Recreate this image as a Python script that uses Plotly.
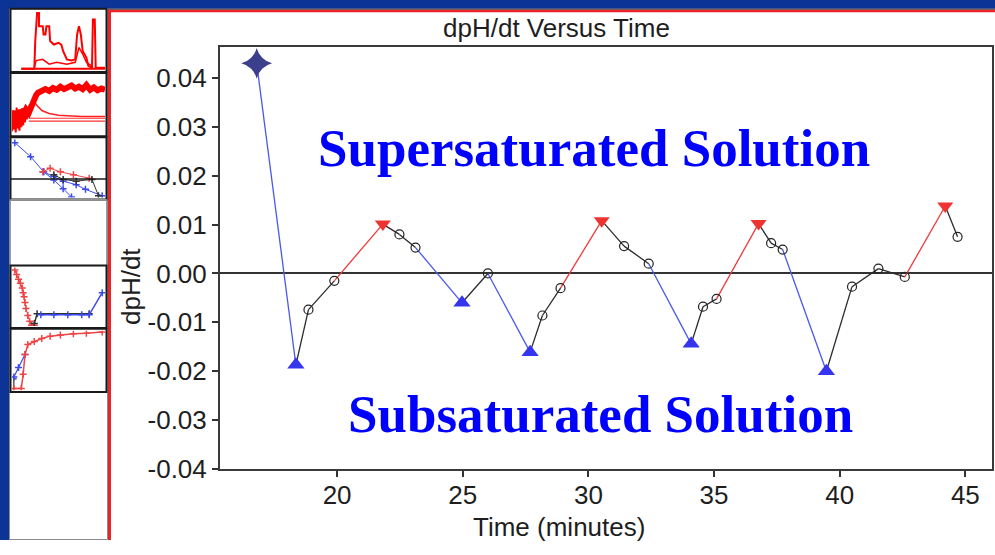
import plotly.graph_objects as go

W, H = 995, 555

# ---------------- main chart data ----------------
time_min = [16.80, 18.36, 18.86, 19.89, 21.82, 22.48, 23.12, 24.97, 26.00, 27.68,
            28.17, 28.89, 30.53, 31.42, 32.40, 34.09, 34.56, 35.10, 36.77, 37.27,
            37.73, 39.47, 40.49, 41.54, 42.59, 44.20, 44.69]
dph_dt = [0.0430, -0.0187, -0.0074, -0.0015, 0.0101, 0.0080, 0.0053, -0.0060, 0.0000, -0.0161,
          -0.0086, -0.0030, 0.0108, 0.0056, 0.0020, -0.0144, -0.0068, -0.0052, 0.0102, 0.0062,
          0.0049, -0.0200, -0.0027, 0.0010, -0.0007, 0.0138, 0.0075]
point_kind = ["start", "min", "pt", "pt", "max", "pt", "pt", "min", "pt", "min",
              "pt", "pt", "max", "pt", "pt", "min", "pt", "pt", "max", "pt",
              "pt", "min", "pt", "pt", "pt", "max", "pt"]

y_tick_vals = [-0.04, -0.03, -0.02, -0.01, 0.0, 0.01, 0.02, 0.03, 0.04]
y_tick_text = ["-0.04", "-0.03", "-0.02", "-0.01", "0.00", "0.01", "0.02", "0.03", "0.04"]
x_tick_vals = [20, 25, 30, 35, 40, 45]
x_tick_text = ["20", "25", "30", "35", "40", "45"]

chart_title = "dpH/dt Versus Time"
x_title = "Time (minutes)"
y_title = "dpH/dt"
upper_label = "Supersaturated Solution"
lower_label = "Subsaturated Solution"

# ---------------- thumbnail data (0-100 units) ----------------
thumb1_main_u = [10, 24, 25, 27, 29, 29, 33, 34, 36, 37, 40, 41, 45, 50, 53, 55, 59, 64, 68, 70, 72, 74, 76, 80, 82, 86, 87, 89, 90, 100]
thumb1_main_v = [2, 2, 49, 96, 96, 74, 74, 60, 60, 74, 74, 49, 43, 46, 43, 32, 18, 16, 18, 60, 74, 60, 32, 21, 7, 4, 85, 85, 4, 4]
thumb1_low_u = [24, 26, 33, 40, 48, 59, 68, 72, 76, 80, 86]
thumb1_low_v = [4, 16, 18, 10, 13, 10, 13, 38, 27, 13, 7]
thumb1_base_u = [10, 100]
thumb1_base_v = [2, 2]

thumb2_band_u = [0, 3, 6, 9, 12, 15, 18, 20, 22, 24, 26, 28, 30, 33, 36, 40, 44, 48, 52, 56, 60, 64, 68, 72, 76, 80, 84, 88, 92, 96, 100]
thumb2_band_v = [30, 38, 28, 40, 33, 42, 36, 45, 52, 60, 66, 70, 72, 74, 76, 73, 78, 75, 80, 76, 78, 82, 77, 80, 76, 83, 75, 79, 74, 77, 75]
thumb2_noise_u = [0, 1, 2, 3, 4, 5, 6, 7, 8, 9, 10, 11, 12, 13, 14, 15, 16, 17, 18, 19, 20]
thumb2_noise_v = [5, 40, 8, 35, 3, 45, 10, 38, 6, 42, 12, 44, 15, 40, 20, 48, 25, 46, 30, 50, 35]
thumb2_decay_u = [22, 26, 32, 40, 50, 62, 75, 100]
thumb2_decay_v = [62, 50, 40, 35, 32, 31, 30, 30]
thumb2_flat_u = [18, 100]
thumb2_flat_v = [22, 22]
thumb2_flat2_v = [27, 27]

thumb3_blue_u = [3, 20, 34, 45, 55, 64]
thumb3_blue_v = [94, 70, 44, 30, 15, 1]
thumb3_blue2_u = [34, 45, 55, 69, 79, 97]
thumb3_blue2_v = [44, 36, 28, 22, 14, 3]
thumb3_red_u = [33, 41, 52, 66, 83]
thumb3_red_v = [44, 50, 44, 39, 33]
thumb3_black_u = [45, 55, 69, 86, 93]
thumb3_black_v = [39, 31, 28, 31, 3]

thumb5_red_u = [3, 5, 7, 9, 11, 12, 13, 14, 15, 17, 19, 21, 24]
thumb5_red_v = [96, 88, 80, 73, 65, 57, 50, 40, 30, 18, 8, 1, 1]
thumb5_black_u = [24, 27, 83]
thumb5_black_v = [4, 21, 21]
thumb5_blue_u = [31, 45, 60, 75, 83, 97]
thumb5_blue_v = [19, 19, 19, 19, 19, 57]

thumb6_red_u = [2, 10, 12, 14, 17, 24, 32, 41, 52, 66, 80, 97]
thumb6_red_v = [3, 3, 27, 60, 77, 82, 87, 91, 93, 95, 96, 98]
thumb6_blue_u = [2, 7, 14]
thumb6_blue_v = [22, 38, 60]
thumb6_black_u = [2, 2, 5]
thumb6_black_v = [3, 19, 19]

SANS = "Liberation Sans, Arial, sans-serif"
SERIF = "Liberation Serif, Times New Roman, serif"
NAVY = "#0b3496"
TXT = "#1e1e1e"


def px(x):
    return x / W


def py(y):
    return 1 - y / H


fig = go.Figure()

# segments coloured by the kind of point they lead into
seg_color = {"min": "#4a58ee", "max": "#ee3a3a"}
groups = {}
for i in range(len(time_min) - 1):
    c = seg_color.get(point_kind[i + 1], "#2b2b2b")
    gx, gy = groups.setdefault(c, ([], []))
    gx += [time_min[i], time_min[i + 1], None]
    gy += [dph_dt[i], dph_dt[i + 1], None]
for c, (gx, gy) in groups.items():
    fig.add_trace(go.Scatter(x=gx, y=gy, mode="lines", line=dict(color=c, width=1.3),
                             hoverinfo="skip", showlegend=False))

marker_styles = {
    "start": dict(symbol="star-diamond", size=22, color="#3b3f8c", line=dict(width=0)),
    "min": dict(symbol="triangle-up", size=15, color="#3535ee", line=dict(width=0)),
    "max": dict(symbol="triangle-down", size=14, color="#ee3333", line=dict(width=0)),
    "pt": dict(symbol="circle-open", size=9, color="#222222", line=dict(width=1.2)),
}
for kind in ["pt", "start", "min", "max"]:
    xs = [t for t, k in zip(time_min, point_kind) if k == kind]
    ys = [v for v, k in zip(dph_dt, point_kind) if k == kind]
    fig.add_trace(go.Scatter(x=xs, y=ys, mode="markers", marker=marker_styles[kind],
                             showlegend=False, hoverinfo="x+y"))

# ---------------- thumbnails ----------------
thumb_boxes = [(9, 74), (75, 140), (141, 205), (205, 273), (273, 337), (338, 403)]
thumb_traces = {
    2: [(thumb1_base_u, thumb1_base_v, "#ff0000", 2, "lines", None),
        (thumb1_low_u, thumb1_low_v, "#ff0000", 1.5, "lines", None),
        (thumb1_main_u, thumb1_main_v, "#ff0000", 2, "lines", None)],
    3: [(thumb2_noise_u, thumb2_noise_v, "#ff0000", 2, "lines", None),
        (thumb2_flat_u, thumb2_flat_v, "#ff3030", 1.2, "lines", None),
        (thumb2_flat_u, thumb2_flat2_v, "#ff3030", 1.2, "lines", None),
        (thumb2_decay_u, thumb2_decay_v, "#ff2020", 1.5, "lines", None),
        (thumb2_band_u, thumb2_band_v, "#ff0000", 6, "lines", None)],
    4: [(thumb3_blue_u, thumb3_blue_v, "#3a4aee", 1, "lines+markers", "#3a4aee"),
        (thumb3_blue2_u, thumb3_blue2_v, "#3a4aee", 1, "lines+markers", "#3a4aee"),
        (thumb3_red_u, thumb3_red_v, "#ee4444", 1, "lines+markers", "#ee4444"),
        (thumb3_black_u, thumb3_black_v, "#333333", 1, "lines+markers", "#333333")],
    6: [(thumb5_red_u, thumb5_red_v, "#ee4444", 1, "lines+markers", "#ee4444"),
        (thumb5_black_u, thumb5_black_v, "#333333", 1.5, "lines+markers", "#333333"),
        (thumb5_blue_u, thumb5_blue_v, "#3a4aee", 1.5, "lines+markers", "#3a4aee")],
    7: [(thumb6_black_u, thumb6_black_v, "#333333", 1.2, "lines", None),
        (thumb6_blue_u, thumb6_blue_v, "#3a4aee", 1.2, "lines+markers", "#3a4aee"),
        (thumb6_red_u, thumb6_red_v, "#ee4444", 1.5, "lines+markers", "#ee4444")],
}
box_axis = {2: 0, 3: 1, 4: 2, 6: 4, 7: 5}
for ax, traces in thumb_traces.items():
    for u, v, col, wdt, mode, mcol in traces:
        fig.add_trace(go.Scatter(
            x=u, y=v, mode=mode, xaxis=f"x{ax}", yaxis=f"y{ax}",
            line=dict(color=col, width=wdt),
            marker=dict(symbol="cross-thin-open", size=5, color=mcol or col, line=dict(width=1.5, color=mcol or col)),
            hoverinfo="skip", showlegend=False))

layout_axes = {}
for ax, bi in box_axis.items():
    top, bot = thumb_boxes[bi]
    layout_axes[f"xaxis{ax}"] = dict(domain=[px(12), px(105)], range=[0, 100], visible=False,
                                     anchor=f"y{ax}", fixedrange=True)
    layout_axes[f"yaxis{ax}"] = dict(domain=[py(bot - 2), py(top + 2)], range=[0, 100], visible=False,
                                     anchor=f"x{ax}", fixedrange=True)

shapes = [
    dict(type="rect", xref="paper", yref="paper", x0=0, x1=1, y0=py(9), y1=1,
         fillcolor=NAVY, line=dict(width=0), layer="below"),
    dict(type="rect", xref="paper", yref="paper", x0=0, x1=px(9.5), y0=0, y1=1,
         fillcolor=NAVY, line=dict(width=0), layer="below"),
    dict(type="rect", xref="paper", yref="paper", x0=px(9.5), x1=px(107.5), y0=py(554.5), y1=py(9),
         fillcolor="white", line=dict(width=1, color="#8a8a8a"), layer="below"),
    dict(type="rect", xref="paper", yref="paper", x0=px(108), x1=1, y0=py(10), y1=py(9),
         fillcolor="#333333", line=dict(width=0), layer="below"),
    dict(type="rect", xref="paper", yref="paper", x0=px(108), x1=1, y0=py(12.5), y1=py(10),
         fillcolor="#e8262a", line=dict(width=0), layer="below"),
    dict(type="rect", xref="paper", yref="paper", x0=px(108), x1=px(111), y0=0, y1=py(10),
         fillcolor="#e8262a", line=dict(width=0), layer="below"),
]
for bi, (top, bot) in enumerate(thumb_boxes):
    if bi == 3:
        shapes.append(dict(type="rect", xref="paper", yref="paper", x0=px(10.5), x1=px(106.5),
                           y0=py(bot), y1=py(top), line=dict(width=1, color="#9a9a9a")))
    else:
        shapes.append(dict(type="rect", xref="paper", yref="paper", x0=px(10.5), x1=px(106.5),
                           y0=py(bot), y1=py(top), line=dict(width=2, color="#1a1a1a")))
shapes.append(dict(type="line", xref="paper", yref="paper", x0=px(10.5), x1=px(106.5),
                   y0=py(184), y1=py(184), line=dict(width=1.5, color="#1a1a1a")))

annotations = [
    dict(text=chart_title, x=px(556), y=py(29), xref="paper", yref="paper", showarrow=False,
         xanchor="center", yanchor="middle", font=dict(family=SANS, size=26, color=TXT)),
    dict(text=x_title, x=px(559), y=py(542), xref="paper", yref="paper", showarrow=False,
         xanchor="center", yanchor="middle", font=dict(family=SANS, size=26, color=TXT)),
    dict(text=y_title, x=px(131), y=py(295), xref="paper", yref="paper", showarrow=False,
         textangle=-90, xanchor="center", yanchor="middle", font=dict(family=SANS, size=26, color=TXT)),
    dict(text=f"<b>{upper_label}</b>", x=px(594), y=py(152), xref="paper", yref="paper", showarrow=False,
         xanchor="center", yanchor="middle", font=dict(family=SERIF, size=53, color="#0000ff")),
    dict(text=f"<b>{lower_label}</b>", x=px(600), y=py(426), xref="paper", yref="paper", showarrow=False,
         xanchor="center", yanchor="middle", font=dict(family=SERIF, size=53, color="#0000ff")),
]

fig.update_layout(
    width=W, height=H, autosize=False, margin=dict(l=0, r=0, t=0, b=0, pad=0),
    paper_bgcolor="white", plot_bgcolor="white", showlegend=False,
    xaxis=dict(domain=[px(220), px(992)], range=[15.34, 46.06], tickvals=x_tick_vals, ticktext=x_tick_text,
               ticks="outside", ticklen=6, tickwidth=1.5, tickcolor="#333333", ticklabelstandoff=-4,
               showline=True, mirror=True, linecolor="#3a3a3a", linewidth=2,
               showgrid=False, zeroline=False, anchor="y",
               tickfont=dict(family=SANS, size=26, color=TXT)),
    yaxis=dict(domain=[py(482), py(48)], range=[-0.04, 0.0464], tickvals=y_tick_vals, ticktext=y_tick_text,
               ticks="outside", ticklen=6, tickwidth=1.5, tickcolor="#333333",
               showline=True, mirror=True, linecolor="#3a3a3a", linewidth=2,
               showgrid=False, zeroline=True, zerolinecolor="#333333", zerolinewidth=1.5, anchor="x",
               tickfont=dict(family=SANS, size=26, color=TXT)),
    shapes=shapes,
    annotations=annotations,
    **layout_axes,
)

fig.write_html("out.html", config={"responsive": False})
